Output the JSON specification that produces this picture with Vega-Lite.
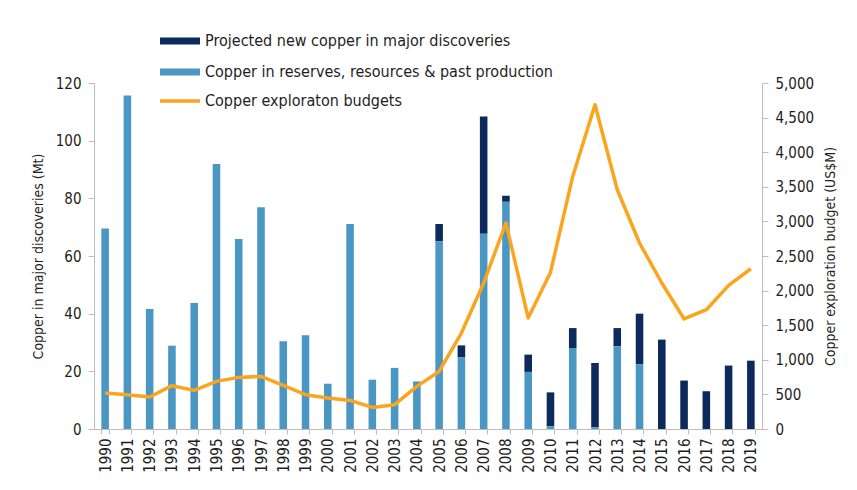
{
  "$schema": "https://vega.github.io/schema/vega-lite/v6.json",
  "width": 668,
  "height": 346,
  "autosize": {"type": "none"},
  "padding": {"left": 94, "top": 83, "right": 95, "bottom": 61},
  "background": "white",
  "config": {
    "font": "DejaVu Sans Condensed, Liberation Sans, sans-serif",
    "view": {"stroke": null},
    "axis": {
      "domainColor": "#bdbdbd",
      "tickColor": "#bdbdbd",
      "labelColor": "#1e1e1e",
      "titleColor": "#1e1e1e",
      "labelFontSize": 15,
      "titleFontSize": 14,
      "titleFontWeight": "normal",
      "tickSize": 6,
      "grid": false
    },
    "legend": {"labelFontSize": 16, "labelColor": "#1e1e1e", "labelLimit": 0}
  },
  "data": {
    "values": [
      {"year": "1990", "reserves": 69.5, "projected": 0, "budget": 520},
      {"year": "1991", "reserves": 115.7, "projected": 0, "budget": 496},
      {"year": "1992", "reserves": 41.6, "projected": 0, "budget": 462},
      {"year": "1993", "reserves": 28.9, "projected": 0, "budget": 626},
      {"year": "1994", "reserves": 43.7, "projected": 0, "budget": 558},
      {"year": "1995", "reserves": 91.9, "projected": 0, "budget": 688},
      {"year": "1996", "reserves": 65.9, "projected": 0, "budget": 746},
      {"year": "1997", "reserves": 76.9, "projected": 0, "budget": 760},
      {"year": "1998", "reserves": 30.4, "projected": 0, "budget": 630},
      {"year": "1999", "reserves": 32.5, "projected": 0, "budget": 496},
      {"year": "2000", "reserves": 15.7, "projected": 0, "budget": 448},
      {"year": "2001", "reserves": 71.1, "projected": 0, "budget": 413},
      {"year": "2002", "reserves": 17.1, "projected": 0, "budget": 312},
      {"year": "2003", "reserves": 21.2, "projected": 0, "budget": 351},
      {"year": "2004", "reserves": 16.5, "projected": 0, "budget": 616},
      {"year": "2005", "reserves": 65.1, "projected": 6.0, "budget": 832},
      {"year": "2006", "reserves": 24.8, "projected": 4.2, "budget": 1387},
      {"year": "2007", "reserves": 67.7, "projected": 40.7, "budget": 2110},
      {"year": "2008", "reserves": 78.8, "projected": 2.1, "budget": 2977},
      {"year": "2009", "reserves": 19.8, "projected": 6.0, "budget": 1604},
      {"year": "2010", "reserves": 0.9, "projected": 11.8, "budget": 2263},
      {"year": "2011", "reserves": 28.1, "projected": 6.9, "budget": 3650},
      {"year": "2012", "reserves": 0.6, "projected": 22.3, "budget": 4686},
      {"year": "2013", "reserves": 28.7, "projected": 6.3, "budget": 3458},
      {"year": "2014", "reserves": 22.5, "projected": 17.5, "budget": 2688},
      {"year": "2015", "reserves": 0, "projected": 31.0, "budget": 2110},
      {"year": "2016", "reserves": 0, "projected": 16.8, "budget": 1590},
      {"year": "2017", "reserves": 0, "projected": 13.1, "budget": 1724},
      {"year": "2018", "reserves": 0, "projected": 22.0, "budget": 2075},
      {"year": "2019", "reserves": 0, "projected": 23.7, "budget": 2316}
    ]
  },
  "encoding": {
    "x": {
      "field": "year",
      "type": "ordinal",
      "scale": {"paddingInner": 0.66, "paddingOuter": 0.33},
      "axis": {"title": null, "labelAngle": -90, "labelPadding": 4, "tickBand": "extent", "tickSize": 5}
    }
  },
  "layer": [
    {
      "transform": [{"fold": ["projected", "reserves"], "as": ["series", "value"]}],
      "mark": {"type": "bar"},
      "encoding": {
        "y": {
          "field": "value",
          "type": "quantitative",
          "stack": "zero",
          "scale": {"domain": [0, 120], "nice": false},
          "axis": {
            "title": "Copper in major discoveries (Mt)",
            "values": [0, 20, 40, 60, 80, 100, 120],
            "labelPadding": 7,
            "titlePadding": 10
          }
        },
        "color": {
          "field": "series",
          "type": "nominal",
          "scale": {"domain": ["projected", "reserves"], "range": ["#0c2a5b", "#4b97c4"]},
          "legend": {
            "title": null,
            "orient": "none",
            "legendX": 78,
            "legendY": -50,
            "symbolType": "M-4,-0.7H4V0.7H-4Z",
            "symbolSize": 100,
            "symbolStrokeWidth": 0,
            "labelOffset": 17,
            "rowPadding": 15,
            "labelExpr": "datum.label == 'projected' ? 'Projected new copper in major discoveries' : 'Copper in reserves, resources & past production'"
          }
        },
        "order": {"field": "series", "sort": "descending"}
      }
    },
    {
      "mark": {"type": "line", "strokeWidth": 3.5, "strokeJoin": "round"},
      "encoding": {
        "y": {
          "field": "budget",
          "type": "quantitative",
          "scale": {"domain": [0, 5000], "nice": false},
          "axis": {
            "orient": "right",
            "title": "Copper exploration budget (US$M)",
            "format": ",.0f",
            "values": [0, 500, 1000, 1500, 2000, 2500, 3000, 3500, 4000, 4500, 5000],
            "labelPadding": 7,
            "titlePadding": 10,
            "titleAngle": 270,
            "titleBaseline": "top"
          }
        },
        "stroke": {
          "datum": "Copper exploraton budgets",
          "scale": {"range": ["#fba51f"]},
          "legend": {
            "title": null,
            "orient": "none",
            "legendX": 78,
            "legendY": 10,
            "symbolType": "M-4,0H4",
            "symbolSize": 100,
            "symbolStrokeWidth": 3.5,
            "labelOffset": 17
          }
        }
      }
    }
  ],
  "resolve": {"scale": {"y": "independent"}}
}
